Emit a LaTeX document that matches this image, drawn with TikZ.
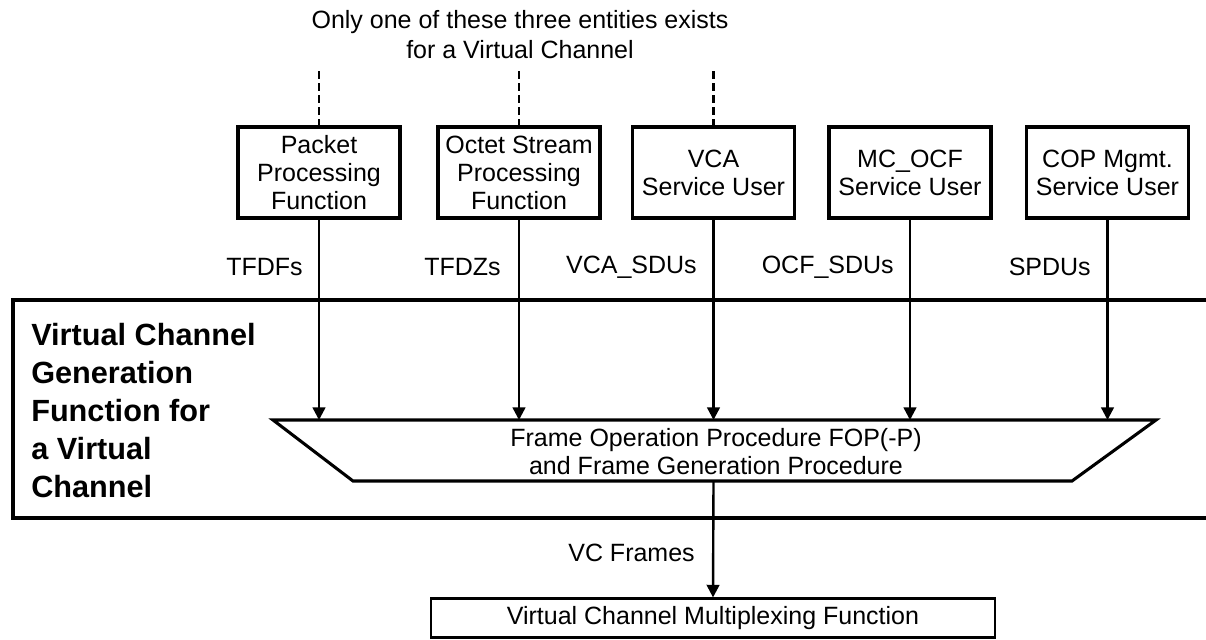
\documentclass[tikz,border=0pt]{standalone}
\usepackage{fontspec}
\setmainfont{Liberation Sans}
\usetikzlibrary{arrows.meta}
\begin{document}
\begin{tikzpicture}[x=0.75pt,y=-0.75pt,
  txt/.style={font=\fontsize{18.75}{21}\selectfont},
  box/.style={draw, line width=2.3pt, align=center, inner sep=0pt, txt,
    minimum width=121.5pt, minimum height=68.25pt},
  lab/.style={anchor=east, inner sep=0pt, txt},
  arr/.style={line width=1.8pt, -{Triangle[length=9.5pt,width=9.5pt]}},
  dashline/.style={line width=1.8pt, dash pattern=on 6pt off 3pt},
  frame/.style={line width=2.3pt, line join=miter}]
\useasboundingbox (0,0) rectangle (1206,639);

% note
\node[align=center, inner sep=0pt, font=\fontsize{18.75}{22.5}\selectfont] (note) at (520,35)
  {Only one of these three entities exists\\for a Virtual Channel};

% service boxes
\node[box] (pk)  at (319,172.5)  {Packet\\Processing\\Function};
\node[box] (os)  at (519,172.5)  {Octet Stream\\Processing\\Function};
\node[box] (vca) at (713.5,172.5) {VCA\\Service User};
\node[box] (mc)  at (910,172.5)  {MC\_OCF\\Service User};
\node[box] (cop) at (1107.5,172.5) {COP Mgmt.\\Service User};

% dashed lines
\coordinate (d1) at (319,71);
\coordinate (d2) at (519,71);
\coordinate (d3) at (713.5,71);
\draw[dashline] (d1) -- (pk.north);
\draw[dashline] (d2) -- (os.north);
\draw[dashline] (d3) -- (vca.north);

% generation function frame (open on the right)
\draw[frame] (1208,300) -- (13,300) -- (13,518) -- (1208,518);
\node[anchor=north west, align=left, inner sep=0pt, font=\bfseries\fontsize{23}{28.5}\selectfont] (vcg) at (31,323)
  {Virtual Channel\\Generation\\Function for\\a Virtual\\Channel};

% trapezoid
\coordinate (tl) at (273,420);
\coordinate (tr) at (1156,420);
\coordinate (br) at (1072,481);
\coordinate (bl) at (353,481);
\draw[frame] (tl) -- (tr) -- (br) -- (bl) -- cycle;
\node[align=center, inner sep=0pt, txt] (fop) at (716,452)
  {Frame Operation Procedure FOP(-P)\\and Frame Generation Procedure};

% arrows into trapezoid
\draw[arr] (pk.south) -- (pk.south |- tl);
\draw[arr] (os.south) -- (os.south |- tl);
\draw[arr] (vca.south) -- (vca.south |- tl);
\draw[arr] (mc.south) -- (mc.south |- tl);
\draw[arr] (cop.south) -- (cop.south |- tl);

% labels
\node[lab] (l1) at (303,267) {TFDFs};
\node[lab] (l2) at (501,267) {TFDZs};
\node[lab] (l3) at (697,267) {VCA\_SDUs};
\node[lab] (l4) at (894,267) {OCF\_SDUs};
\node[lab] (l5) at (1091,267) {SPDUs};

% multiplexing
\node[box, line width=1.6pt, minimum width=423pt, minimum height=29.25pt] (vcm) at (713,618)
  {Virtual Channel Multiplexing Function};
\coordinate (fb) at (713.5,481);
\draw[arr] (fb) -- (vcm.north);
\node[lab] (vcf) at (695,553) {VC Frames};
\end{tikzpicture}
\end{document}
